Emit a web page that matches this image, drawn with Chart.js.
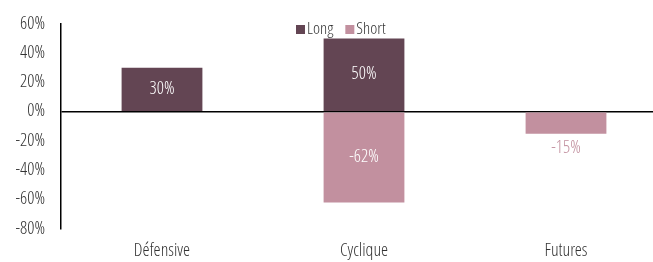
<!DOCTYPE html>
<html>
<head>
<meta charset="utf-8">
<script src="https://cdn.jsdelivr.net/npm/chart.js@4"></script>
<style>
    html, body { margin: 0; padding: 0; background: #fff; overflow: hidden; }
    #wrap { width: 670px; height: 265px; margin-top: -3px; }
</style>
</head>
<body>
<div id="wrap"><canvas id="chart"></canvas></div>
<script>
const categories = ['Défensive', 'Cyclique', 'Futures'];
const longValues = [30, 50, null];
const shortValues = [null, -62, -15];
const yTicks = [60, 40, 20, 0, -20, -40, -60, -80];

const FONT = '"Open Sans Condensed Light", "Roboto Condensed", sans-serif';
const FONT_SIZE = 18;
const TEXT_COLOR = '#333';
const LONG_COLOR = '#634553';
const SHORT_COLOR = '#c2909f';

// value labels: inside the bar, or under it when the bar is too short
const valueLabels = {
    id: 'valueLabels',
    afterDatasetsDraw(chart) {
        const ctx = chart.ctx;
        ctx.save();
        ctx.font = FONT_SIZE + 'px ' + FONT;
        ctx.textAlign = 'center';
        ctx.textBaseline = 'middle';
        chart.data.datasets.forEach((ds, i) => {
            chart.getDatasetMeta(i).data.forEach((bar, j) => {
                const v = ds.data[j];
                if (v === null) return;
                const h = Math.abs(bar.base - bar.y);
                if (h > 22) {
                    ctx.fillStyle = '#fff';
                    ctx.fillText(v + '%', bar.x, (bar.y + bar.base) / 2);
                } else {
                    ctx.fillStyle = ds.backgroundColor;
                    ctx.fillText(v + '%', bar.x, bar.y + (v < 0 ? 15 : -15));
                }
            });
        });
        ctx.restore();
    }
};

// legend drawn over the top of the plot
const topLegend = {
    id: 'topLegend',
    afterDraw(chart) {
        const ctx = chart.ctx;
        ctx.save();
        ctx.font = '17px ' + FONT;
        ctx.textBaseline = 'middle';
        ctx.textAlign = 'left';
        let x = 296;
        const y = 33;
        chart.data.datasets.forEach(ds => {
            ctx.fillStyle = ds.backgroundColor;
            ctx.fillRect(x, y - 5, 9, 9);
            ctx.fillStyle = TEXT_COLOR;
            ctx.fillText(ds.label, x + 11, y);
            x += 11 + ctx.measureText(ds.label).width + 12;
        });
        ctx.restore();
    }
};

new Chart(document.getElementById('chart'), {
    type: 'bar',
    data: {
        labels: categories,
        datasets: [
            { label: 'Long', data: longValues, backgroundColor: LONG_COLOR },
            { label: 'Short', data: shortValues, backgroundColor: SHORT_COLOR }
        ]
    },
    options: {
        responsive: true,
        maintainAspectRatio: false,
        animation: false,
        layout: { padding: { top: 12, right: 3, left: 0, bottom: 0 } },
        datasets: { bar: { barPercentage: 0.4, categoryPercentage: 1 } },
        plugins: { legend: { display: false }, tooltip: { enabled: false } },
        scales: {
            x: {
                stacked: true,
                grid: { display: false },
                border: { display: false },
                ticks: { color: TEXT_COLOR, font: { family: FONT, size: FONT_SIZE }, padding: 3 },
                afterFit(scale) { scale.height = 33; }
            },
            y: {
                stacked: true,
                min: -80,
                max: 60,
                afterBuildTicks(scale) { scale.ticks = yTicks.map(v => ({ value: v })); },
                grid: {
                    drawTicks: false,
                    color: c => c.tick && c.tick.value === 0 ? '#000' : 'rgba(0,0,0,0)',
                    lineWidth: 1.5
                },
                border: { display: true, color: '#000', width: 1.5 },
                ticks: {
                    color: TEXT_COLOR,
                    padding: 16,
                    font: { family: FONT, size: FONT_SIZE },
                    callback: v => v + '%'
                },
                afterFit(scale) { scale.width = 61; }
            }
        }
    },
    plugins: [valueLabels, topLegend]
});
</script>
</body>
</html>
